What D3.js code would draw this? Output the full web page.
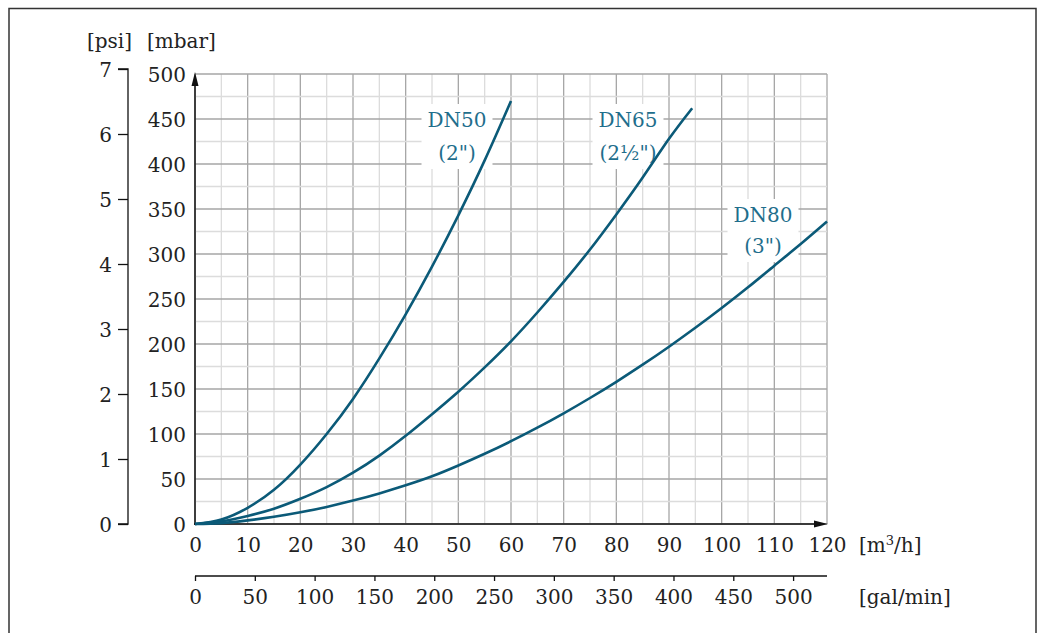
<!DOCTYPE html>
<html>
<head>
<meta charset="utf-8">
<script src="https://cdn.jsdelivr.net/npm/d3@7"></script>
<style>
  body { margin: 0; background: #fff; }
  text { font-family: "DejaVu Serif", serif; }
</style>
</head>
<body>
<div class="svg-container"></div>
<script>
// flow in m3/h, pressure loss in mbar
var flowDN50 = [0, 5, 10, 15, 20, 25, 30, 35, 40, 45, 50, 55, 60];
var lossDN50 = [0, 5, 18, 38, 66, 100, 139, 184, 233, 286, 343, 404, 470];

var flowDN65 = [0, 5, 10, 15, 20, 25, 30, 35, 40, 45, 50, 55, 60, 65, 70, 75, 80, 85, 90, 94.4];
var lossDN65 = [0, 3, 9, 17, 28, 41, 57, 76, 98, 122, 147, 174, 203, 235, 269, 305, 344, 385, 428, 462];

var flowDN80 = [0, 5, 10, 15, 20, 25, 30, 35, 40, 45, 50, 55, 60, 65, 70, 75, 80, 85, 90, 95, 100, 105, 110, 115, 120];
var lossDN80 = [0, 1, 4, 8, 13, 19, 26, 34, 43, 53, 65, 78, 92, 107, 123, 140, 158, 177, 197, 218, 240, 263, 287, 311, 336];

var seriesNames = ["DN50", "DN65", "DN80"];
var seriesSizes = ["(2\")", "(2\u00bd\")", "(3\")"];

var ticksM3h = [0, 10, 20, 30, 40, 50, 60, 70, 80, 90, 100, 110, 120];
var ticksGpm = [0, 50, 100, 150, 200, 250, 300, 350, 400, 450, 500];
var ticksMbar = [0, 50, 100, 150, 200, 250, 300, 350, 400, 450, 500];
var ticksPsi = [0, 1, 2, 3, 4, 5, 6, 7];

var curveColor = "#0b5a78";
var labelColor = "#1f6e8c";
var textColor = "#222";

var svg = d3.select(".svg-container").append("svg")
  .attr("width", 1043)
  .attr("height", 633);

// frame
svg.append("path")
  .attr("d", "M9,640 L9,8.5 L1036,8.5 L1036,640")
  .attr("fill", "none")
  .attr("stroke", "#333")
  .attr("stroke-width", 1.5);

var x = d3.scaleLinear().domain([0, 120]).range([195, 827]);
var y = d3.scaleLinear().domain([0, 500]).range([524, 74]);
var psi = d3.scaleLinear().domain([0, 7]).range([524, 69]);
var gpm = d3.scaleLinear().domain([0, 120 * 4.40287]).range([195, 827]);

// grid
var gx = svg.append("g");
d3.range(0, 121, 5).forEach(function(v){
  gx.append("line")
    .attr("x1", x(v)).attr("x2", x(v))
    .attr("y1", y(0)).attr("y2", y(500))
    .attr("stroke", v % 10 == 0 ? "#a6a6a6" : "#dcdcdc")
    .attr("stroke-width", 1.3);
});
d3.range(0, 501, 25).forEach(function(v){
  gx.append("line")
    .attr("x1", x(0)).attr("x2", x(120))
    .attr("y1", y(v)).attr("y2", y(v))
    .attr("stroke", v % 50 == 0 ? "#a6a6a6" : "#dcdcdc")
    .attr("stroke-width", 1.3);
});

// mbar axis
var yAxis = svg.append("g")
  .attr("transform", "translate(195,0)")
  .call(d3.axisLeft(y).tickValues(ticksMbar).tickSize(0).tickPadding(9));
yAxis.select(".domain").remove();
yAxis.selectAll("text").style("font-size", "20px").style("font-family", "DejaVu Serif").attr("fill", textColor).attr("dy", "0.36em");

svg.append("line")
  .attr("x1", 195).attr("x2", 195)
  .attr("y1", 525).attr("y2", 82)
  .attr("stroke", "#111").attr("stroke-width", 1.5);
svg.append("path")
  .attr("d", "M195,72 L191.5,86 L198.5,86 Z")
  .attr("fill", "#111");

// psi axis
var pAxis = svg.append("g")
  .attr("transform", "translate(128,0)")
  .call(d3.axisLeft(psi).tickValues(ticksPsi).tickFormat(d3.format("d")).tickSize(10).tickPadding(6));
pAxis.select(".domain").attr("stroke", "#111").attr("stroke-width", 1.3)
  .attr("d", "M-10," + psi(7) + "H0V" + psi(0) + "H-10");
pAxis.selectAll(".tick line").attr("stroke", "#111").attr("stroke-width", 1.3);
pAxis.selectAll("text").style("font-size", "20px").style("font-family", "DejaVu Serif").attr("fill", textColor).attr("dy", "0.36em");

// m3/h axis
var xAxis = svg.append("g")
  .attr("transform", "translate(0,524)")
  .call(d3.axisBottom(x).tickValues(ticksM3h).tickSize(0).tickPadding(14));
xAxis.select(".domain").remove();
xAxis.selectAll("text").style("font-size", "20px").style("font-family", "DejaVu Serif").attr("fill", textColor);

svg.append("line")
  .attr("x1", 194).attr("x2", 816)
  .attr("y1", 524).attr("y2", 524)
  .attr("stroke", "#111").attr("stroke-width", 1.5);
svg.append("path")
  .attr("d", "M828,524 L814,520.5 L814,527.5 Z")
  .attr("fill", "#111");

// gal/min axis
var gAxis = svg.append("g")
  .attr("transform", "translate(0,576)")
  .call(d3.axisBottom(gpm).tickValues(ticksGpm).tickSize(5).tickPadding(9));
gAxis.select(".domain").attr("stroke", "#111").attr("stroke-width", 1.3)
  .attr("d", "M195,0H827");
gAxis.selectAll(".tick line").attr("stroke", "#111").attr("stroke-width", 1.3);
gAxis.selectAll("text").style("font-size", "20px").style("font-family", "DejaVu Serif").attr("fill", textColor);

// unit labels
function unitLabel(tx, ty, anchor, txt){
  return svg.append("text")
    .attr("x", tx).attr("y", ty)
    .style("text-anchor", anchor)
    .style("font-size", "20px")
    .attr("fill", textColor)
    .text(txt);
}
unitLabel(132, 48, "end", "[psi]");
unitLabel(147, 48, "start", "[mbar]");
var m3 = unitLabel(859, 552, "start", "[m");
m3.append("tspan").attr("dy", -7).style("font-size", "13px").text("3");
m3.append("tspan").attr("dy", 7).text("/h]");
unitLabel(859, 604, "start", "[gal/min]");

// curve labels (white box behind the text)
var labelPos = [
  { x: 457, y1: 127, y2: 160 },
  { x: 628, y1: 127, y2: 160 },
  { x: 763, y1: 222, y2: 253 }
];
seriesNames.forEach(function(name, i){
  var g = svg.append("g");
  var bg = g.append("rect").attr("fill", "#fff");
  var t1 = g.append("text")
    .attr("x", labelPos[i].x).attr("y", labelPos[i].y1)
    .style("text-anchor", "middle").style("font-size", "20px")
    .attr("fill", labelColor).text(name);
  var t2 = g.append("text")
    .attr("x", labelPos[i].x).attr("y", labelPos[i].y2)
    .style("text-anchor", "middle").style("font-size", "20px")
    .attr("fill", labelColor).text(seriesSizes[i]);
  var b1 = t1.node().getBBox();
  var b2 = t2.node().getBBox();
  var left = Math.min(b1.x, b2.x) - 6, right = Math.max(b1.x + b1.width, b2.x + b2.width) + 6;
  bg.attr("x", left).attr("y", b1.y - 4)
    .attr("width", right - left).attr("height", b2.y + b2.height - b1.y + 8);
});

// curves
var line = d3.line()
  .x(function(d){ return x(d[0]); })
  .y(function(d){ return y(d[1]); })
  .curve(d3.curveNatural);

[[flowDN50, lossDN50], [flowDN65, lossDN65], [flowDN80, lossDN80]].forEach(function(s){
  svg.append("path")
    .datum(d3.zip(s[0], s[1]))
    .attr("d", line)
    .attr("fill", "none")
    .attr("stroke", curveColor)
    .attr("stroke-width", 2.6);
});
</script>
</body>
</html>
